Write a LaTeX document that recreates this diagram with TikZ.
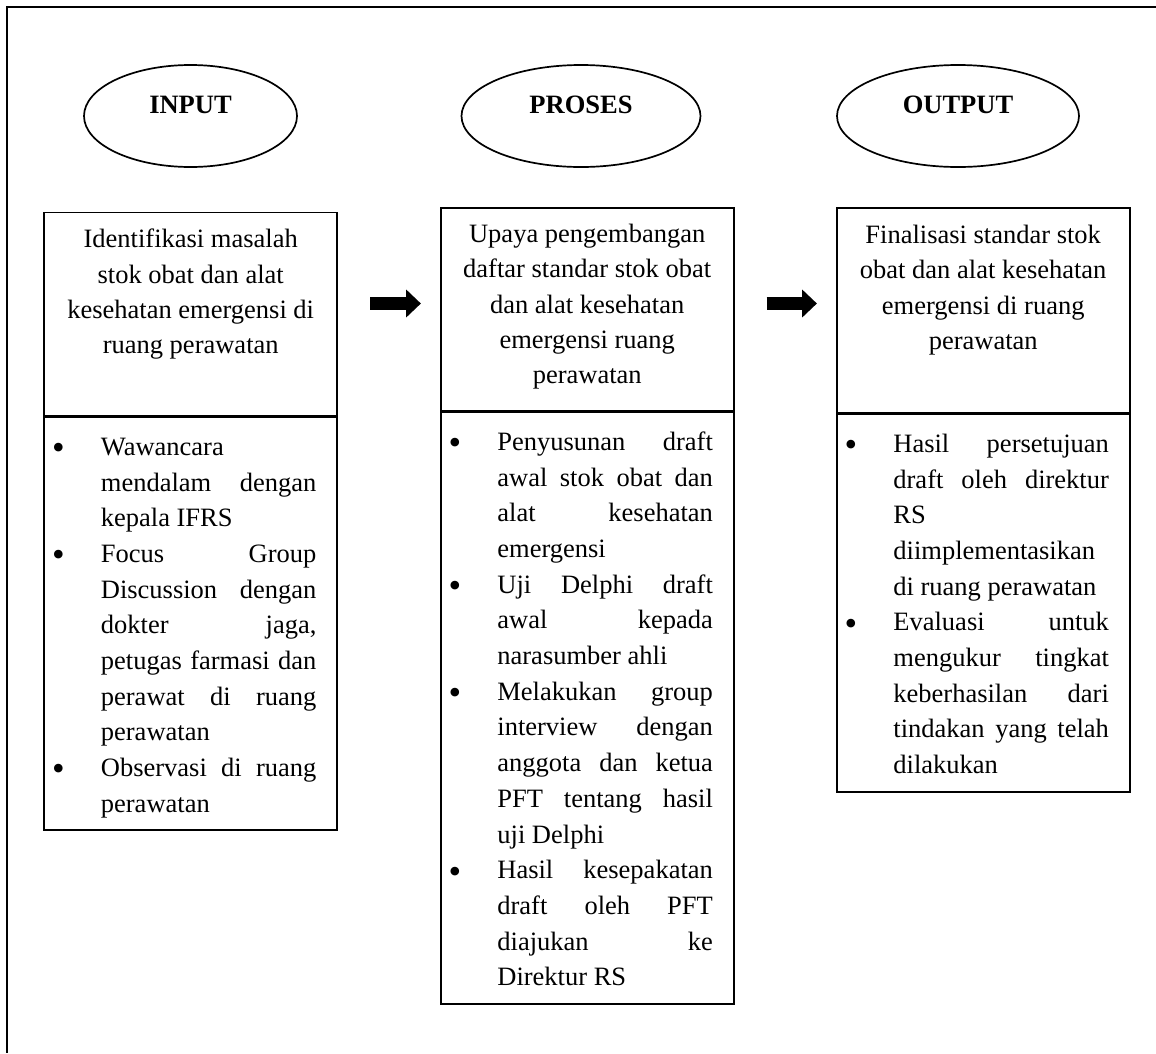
\documentclass[tikz,border=0pt]{standalone}
\usepackage{fontspec}
\setmainfont{Liberation Serif}
\usetikzlibrary{arrows.meta, shapes.geometric}

\newcommand{\linetop}{\rule{0pt}{20pt}}
\newcommand{\listbul}{\makebox[48.8pt][l]{\raisebox{-4.3pt}{\fontsize{36}{36}\selectfont\textbullet}}}
\newcommand{\listpad}{\hspace*{48.8pt}}
\newcommand{\justline}[1]{\makebox[215.5pt][s]{#1}}

\begin{document}
\begin{tikzpicture}[
  x=1pt, y=-1pt,
  frame/.style={line width=1.8pt, black},
  phase/.style={draw, ellipse, line width=1.7pt, minimum width=#1, minimum height=102pt,
    font=\fontsize{26.5}{30}\selectfont\bfseries, text height=17.5pt, text depth=22pt},
  panel/.style={draw, line width=1.6pt, minimum width=293pt, minimum height=#1, inner sep=0pt},
  headtext/.style={anchor=north, align=center, inner sep=0pt,
    font=\fontsize{26.5}{35.4}\selectfont},
  listtext/.style={anchor=north west, align=left, inner sep=0pt,
    font=\fontsize{26.5}{35.7}\selectfont},
  blockarr/.style={line width=13.3pt, -{Triangle[length=14.7pt, width=27pt]},
    shorten <=32pt, shorten >=19pt},
]

% Page and frame
\useasboundingbox (0,0) rectangle (1156,1053);
\draw[frame] (1156,6.7) -- (6.7,6.7) -- (6.7,1053);

% =============================================
% Phase labels
% =============================================
\node[phase=213pt] (inlbl) at (190.5,116) {INPUT};
\node[phase=239pt] (prlbl) at (581,116) {PROSES};
\node[phase=242pt] (outlbl) at (958,116) {OUTPUT};

% =============================================
% INPUT column
% =============================================
\node[panel=203.5pt, anchor=north] (inhead) at (190.7,211.5) {};
\node[panel=412.7pt, anchor=north] (inlist) at (inhead.south) {};

\node[headtext] (inheadtxt) at ([yshift=-16pt]inhead.north)
  {\linetop Identifikasi masalah\\ stok obat dan alat\\ kesehatan emergensi di\\ ruang perawatan};

\node[listtext] (inlisttxt) at ([xshift=8.5pt, yshift=-18.5pt]inlist.north west)
  {\linetop\listbul Wawancara\\
   \listpad\justline{mendalam dengan}\\
   \listpad kepala IFRS\\
   \listbul\justline{Focus Group}\\
   \listpad\justline{Discussion dengan}\\
   \listpad\justline{dokter jaga,}\\
   \listpad\justline{petugas farmasi dan}\\
   \listpad\justline{perawat di ruang}\\
   \listpad perawatan\\
   \listbul\justline{Observasi di ruang}\\
   \listpad perawatan};

% =============================================
% PROSES column
% =============================================
\node[panel=203pt, anchor=north] (prhead) at (587.2,207) {};
\node[panel=591.7pt, anchor=north] (prlist) at (prhead.south) {};

\node[headtext] (prheadtxt) at ([yshift=-15pt]prhead.north)
  {\linetop Upaya pengembangan\\ daftar standar stok obat\\ dan alat kesehatan\\ emergensi ruang\\ perawatan};

\node[listtext] (prlisttxt) at ([xshift=8.5pt, yshift=-18.5pt]prlist.north west)
  {\linetop\listbul\justline{Penyusunan draft}\\
   \listpad\justline{awal stok obat dan}\\
   \listpad\justline{alat kesehatan}\\
   \listpad emergensi\\
   \listbul\justline{Uji Delphi draft}\\
   \listpad\justline{awal kepada}\\
   \listpad narasumber ahli\\
   \listbul\justline{Melakukan group}\\
   \listpad\justline{interview dengan}\\
   \listpad\justline{anggota dan ketua}\\
   \listpad\justline{PFT tentang hasil}\\
   \listpad uji Delphi\\
   \listbul\justline{Hasil kesepakatan}\\
   \listpad\justline{draft oleh PFT}\\
   \listpad\justline{diajukan ke}\\
   \listpad Direktur RS};

% =============================================
% OUTPUT column
% =============================================
\node[panel=205pt, anchor=north] (outhead) at (983.2,207) {};
\node[panel=377.5pt, anchor=north] (outlist) at (outhead.south) {};

\node[headtext] (outheadtxt) at ([yshift=-16pt]outhead.north)
  {\linetop Finalisasi standar stok\\ obat dan alat kesehatan\\ emergensi di ruang\\ perawatan};

\node[listtext] (outlisttxt) at ([xshift=8.5pt, yshift=-18.5pt]outlist.north west)
  {\linetop\listbul\justline{Hasil persetujuan}\\
   \listpad\justline{draft oleh direktur}\\
   \listpad RS\\
   \listpad diimplementasikan\\
   \listpad di ruang perawatan\\
   \listbul\justline{Evaluasi untuk}\\
   \listpad\justline{mengukur tingkat}\\
   \listpad\justline{keberhasilan dari}\\
   \listpad\justline{tindakan yang telah}\\
   \listpad dilakukan};

% =============================================
% Arrows between the columns
% =============================================
\coordinate (arrowrow) at (0,303.5);
\draw[blockarr] (inhead.east |- arrowrow) -- (prhead.west |- arrowrow);
\draw[blockarr] (prhead.east |- arrowrow) -- (outhead.west |- arrowrow);

\end{tikzpicture}
\end{document}
